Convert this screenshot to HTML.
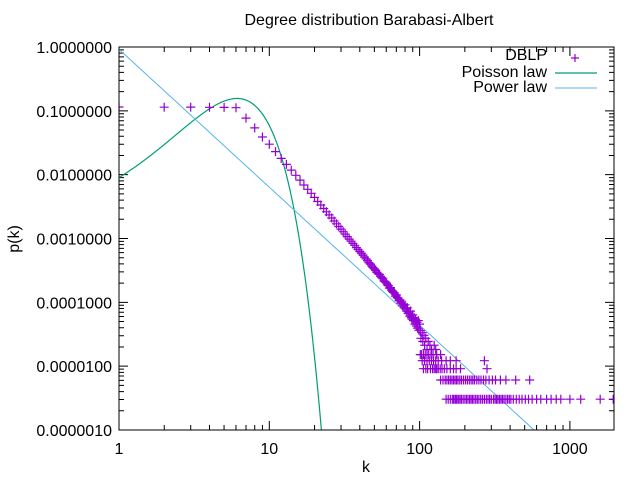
<!DOCTYPE html>
<html><head><meta charset="utf-8"><style>
html,body{margin:0;padding:0;background:#fff;}
svg{display:block;font-family:"Liberation Sans",sans-serif;}
</style></head><body>
<svg id="chart" width="640" height="480">
<rect x="0" y="0" width="640" height="480" fill="#fff"/>
<text x="369" y="25" text-anchor="middle" font-size="16" fill="#000">Degree distribution Barabasi-Albert</text>
<text x="366" y="472" text-anchor="middle" font-size="16">k</text>
<text transform="translate(19,239) rotate(-90)" text-anchor="middle" font-size="16">p(k)</text>
<defs><clipPath id="clip"><rect x="119" y="47" width="495" height="383"/></clipPath></defs>
<g id="ticks"></g>
<g id="series" clip-path="url(#clip)"></g>
<rect x="119" y="47" width="495" height="383" fill="none" stroke="#000" stroke-width="1"/>
<g id="legend">
<text x="547" y="60" text-anchor="end" font-size="16">DBLP</text>
<text x="547" y="77" text-anchor="end" font-size="16">Poisson law</text>
<text x="547" y="92" text-anchor="end" font-size="16">Power law</text>
<path d="M571,58h8M575,54v8" stroke="#9400d3" stroke-width="1.2"/>
<line x1="555" y1="73" x2="597" y2="73" stroke="#009e73" stroke-width="1.2"/>
<line x1="555" y1="88" x2="597" y2="88" stroke="#56b4e9" stroke-width="1"/>
</g>
</svg>
<script>
const xTicks=[1,10,100,1000];
const xTickLabels=["1","10","100","1000"];
const yTicks=[1,0.1,0.01,0.001,0.0001,0.00001,0.000001];
const yTickLabels=["1.0000000","0.1000000","0.0100000","0.0010000","0.0001000","0.0000100","0.0000010"];
const totalNodes=329000;
const headK=[1,2,3,4,5,6,7,8,9,10,11,12,13,14,15,16,17,18,19,20,21,22,23,24,25,26,27,28,29,30,31,32,33,34,35,36,37,38,39,40,41,42,43,44,45,46,47,48,49,50,51,52,53,54,55,56,57,58,59,60,61,62,63,64,65,66,67,68,69,70,71,72,73,74,75,76,77,78,79,80,81,82,83,84,85,86,87,88,89,90,91,92,93,94,95,96,97,98,99,100];
const headCount=[37800,37500,37700,37400,37200,36900,25300,17800,12800,9870,7570,5920,4770,3880,3220,2700,2270,1940,1680,1450,1250,1100,970,862,770,690,618,559,507,461,421,385,352,322,299,276,257,237,220,206,194,181,168,158,148,138,131,122,115,110,104,97,92,90,84,80,77,71,69,66,62,60,55,56,51,49,47,46,41,43,39,38,35,36,32,33,29,31,27,30,26,24,27,22,23,20,24,19,18,21,17,19,15,18,14,16,13,17,12,15];
const midK=[101,102,104,105,107,108,110,112,114,117,120,125,128];
const midCount=[12,9,11,8,10,7,9,6,8,7,6,7,6];
const level5K=[101,103,106,109,112,115,119,123,130,138];
const level4K=[104,108,112,116,120,124,128,133,140,150,160,175,270];
const level3K=[106,110,113,118,122,125,128,130,133,137,141,146,152,160,168,175,187,281];
const level2K=[138,143,148,152,156,160,164,168,172,176,180,185,190,196,202,208,214,220,226,232,240,248,256,266,276,290,305,320,345,375,436,540];
const level1K=[150,155,160,165,168,172,175,178,182,186,190,195,200,205,210,215,220,225,230,236,242,248,255,262,270,278,285,292,300,310,318,325,332,340,348,356,365,375,385,395,405,420,440,460,480,505,530,560,600,640,700,750,810,870,1000,1180,1590,1940];
const poissonLambda=[6.6];
const powerParams=[0.92,2.16];

const NS="http://www.w3.org/2000/svg";
const X0=119,X1=614,Y0=430,Y1=47;
const xMinL=0,xMaxL=Math.log10(1965),yMinL=-6,yMaxL=0;
function xs(k){return X0+(Math.log10(k)-xMinL)/(xMaxL-xMinL)*(X1-X0);}
function ys(p){return Y0-(Math.log10(p)-yMinL)/(yMaxL-yMinL)*(Y0-Y1);}
function mk(tag,attrs){const e=document.createElementNS(NS,tag);for(const a in attrs)e.setAttribute(a,attrs[a]);return e;}
const ticks=document.getElementById('ticks');
xTicks.forEach((t,i)=>{
  const x=xs(t);
  const l=mk('path',{d:`M${x},${Y0}v-9M${x},${Y1}v9`,stroke:'#000','stroke-width':1});
  
  
  ticks.appendChild(l);
  const tx=mk('text',{x:x,y:454,'text-anchor':'middle','font-size':16});
  
  
  tx.textContent=xTickLabels[i];ticks.appendChild(tx);
  for(let m=2;m<=9;m++){const v=t*m;if(v>1965)break;const xm=xs(v);
    const ml=mk('path',{d:`M${xm},${Y0}v-5M${xm},${Y1}v5`,stroke:'#000','stroke-width':1});
    
    
    ticks.appendChild(ml);}
});
yTicks.forEach((t,i)=>{
  const y=ys(t);
  const l=mk('path',{d:`M${X0},${y}h9M${X1},${y}h-9`,stroke:'#000','stroke-width':1});
  
  
  ticks.appendChild(l);
  const tx=mk('text',{x:112,y:y+6,'text-anchor':'end','font-size':16});
  
  
  tx.textContent=yTickLabels[i];ticks.appendChild(tx);
  if(t<1){for(let m=2;m<=9;m++){const ym=ys(t*m);
    const ml=mk('path',{d:`M${X0},${ym}h5M${X1},${ym}h-5`,stroke:'#000','stroke-width':1});
    
    
    ticks.appendChild(ml);}}
});
const series=document.getElementById('series');
function lgam(z){const g=7,c=[0.99999999999980993,676.5203681218851,-1259.1392167224028,771.32342877765313,-176.61502916214059,12.507343278686905,-0.13857109526572012,9.9843695780195716e-6,1.5056327351493116e-7];
  z-=1;let a=c[0];const t=z+g+0.5;for(let i=1;i<9;i++)a+=c[i]/(z+i);return 0.5*Math.log(2*Math.PI)+(z+0.5)*Math.log(t)-t+Math.log(a);}
let pd='';const lam=poissonLambda[0];
for(let i=0;i<=400;i++){const k=Math.pow(10,i/400*Math.log10(30));
  const p=Math.exp(k*Math.log(lam)-lam-lgam(k+1));
  const y=Math.min(ys(p),440);pd+=(i?'L':'M')+xs(k).toFixed(2)+','+y.toFixed(2);}
const pp=mk('path',{d:pd,fill:'none',stroke:'#009e73','stroke-width':1.2});


series.appendChild(pp);
let wd='';for(let i=0;i<=200;i++){const k=Math.pow(10,i/200*xMaxL);const p=powerParams[0]*Math.pow(k,-powerParams[1]);
  wd+=(i?'L':'M')+xs(k).toFixed(2)+','+Math.min(ys(p),440).toFixed(2);}
const pw=mk('path',{d:wd,fill:'none',stroke:'#56b4e9','stroke-width':1});


series.appendChild(pw);
function pt(k,c){const x=xs(k),y=ys(c/totalNodes);
  const e=mk('path',{d:`M${(x-4.5).toFixed(1)},${y.toFixed(1)}h9M${x.toFixed(1)},${(y-4.5).toFixed(1)}v9`,stroke:'#9400d3','stroke-width':1.2});
  
  
  series.appendChild(e);}
headK.forEach((k,i)=>pt(k,headCount[i]));
midK.forEach((k,i)=>pt(k,midCount[i]));
level5K.forEach(k=>pt(k,5));
level4K.forEach(k=>pt(k,4));
level3K.forEach(k=>pt(k,3));
level2K.forEach(k=>pt(k,2));
level1K.forEach(k=>pt(k,1));
</script>
</body></html>
